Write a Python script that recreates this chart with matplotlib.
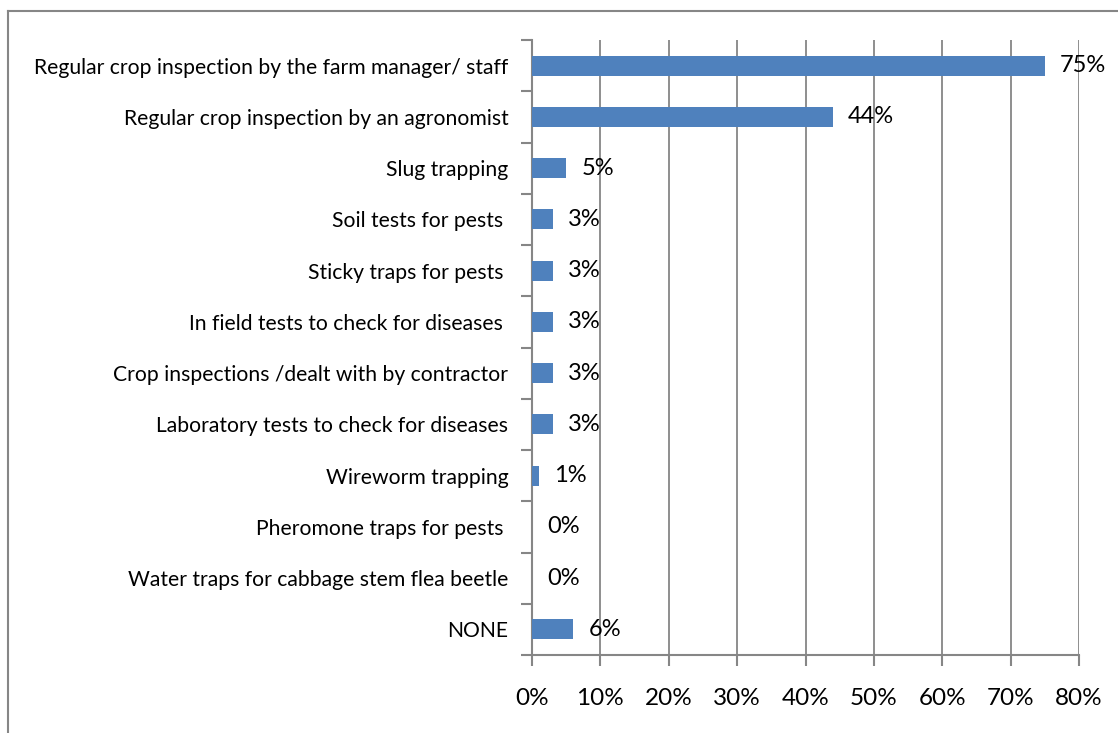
import matplotlib
matplotlib.use("Agg")
import matplotlib.pyplot as plt
from matplotlib.lines import Line2D
from matplotlib.ticker import FixedLocator

categories = [
    "Regular crop inspection by the farm manager/ staff",
    "Regular crop inspection by an agronomist",
    "Slug trapping",
    "Soil tests for pests ",
    "Sticky traps for pests ",
    "In field tests to check for diseases ",
    "Crop inspections /dealt with by contractor",
    "Laboratory tests to check for diseases",
    "Wireworm trapping",
    "Pheromone traps for pests ",
    "Water traps for cabbage stem flea beetle",
    "NONE",
]
values = [75, 44, 5, 3, 3, 3, 3, 3, 1, 0, 0, 6]
x_ticks = [0, 10, 20, 30, 40, 50, 60, 70, 80]

plt.rcParams['font.family'] = ['Lato', 'DejaVu Sans']
grey = "#868686"

fig = plt.figure(figsize=(11.18, 7.33), dpi=100)
ax = fig.add_axes([532 / 1118, 1 - 655 / 733, (1079 - 532) / 1118, (655 - 40) / 733])

n = len(categories)
ypos = list(range(n))
ax.barh(ypos, values, height=0.39, color="#4F81BD", zorder=3)

ax.set_ylim(n - 0.5, -0.5)
ax.set_xlim(0, 80)
ax.set_xticks(x_ticks)
ax.set_xticklabels([f"{t}%" for t in x_ticks], fontsize=17.5)
ax.set_yticks(ypos)
ax.set_yticklabels(categories, fontsize=15.2)
ax.yaxis.set_minor_locator(FixedLocator([i - 0.5 for i in range(n + 1)]))
ax.tick_params(axis="y", which="major", length=0, pad=17)
ax.tick_params(axis="y", which="minor", length=8, color=grey, width=1.5)
ax.tick_params(axis="x", length=8, color=grey, width=1.5, pad=16)

ax.grid(axis="x", color=grey, linewidth=1.3, zorder=0)
for side in ("top", "right"):
    ax.spines[side].set_visible(False)
for side in ("left", "bottom"):
    ax.spines[side].set_color(grey)
    ax.spines[side].set_linewidth(1.5)

for y, v in zip(ypos, values):
    ax.annotate(f"{v}%", (v, y), xytext=(11, 0), textcoords="offset points",
                va="center", ha="left", fontsize=17, zorder=4)

# chart area border (left and top edges)
fig.add_artist(Line2D([8 / 1118, 8 / 1118], [0, 1 - 11 / 733], transform=fig.transFigure,
                      color=grey, linewidth=1.5))
fig.add_artist(Line2D([8 / 1118, 1], [1 - 11 / 733, 1 - 11 / 733], transform=fig.transFigure,
                      color=grey, linewidth=1.5))

fig.savefig("out.png", dpi=100)
